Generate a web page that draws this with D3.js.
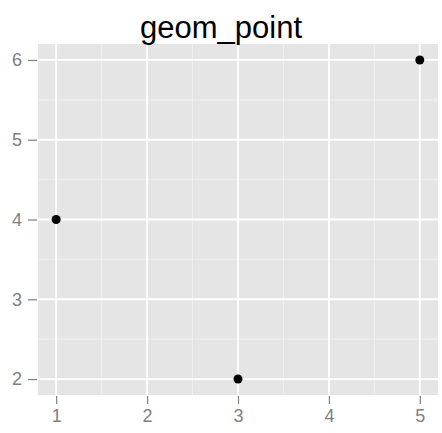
<!DOCTYPE html>
<html>
<head>
<meta charset="utf-8">
<script src="https://cdn.jsdelivr.net/npm/d3@7"></script>
<style>
  html, body { margin: 0; padding: 0; background: #fff; }
  svg { display: block; }
</style>
</head>
<body>
<svg id="chart" width="442" height="433"></svg>
<script>
// Data
const xValues = [1, 3, 5];
const yValues = [4, 2, 6];
const xTicks = [1, 2, 3, 4, 5];
const yTicks = [2, 3, 4, 5, 6];
const xMinor = [1.5, 2.5, 3.5, 4.5];
const yMinor = [2.5, 3.5, 4.5, 5.5];
const title = "geom_point";

const W = 442, H = 433;
const panel = { left: 38, right: 438, top: 44, bottom: 395 };

const svg = d3.select("#chart");

// Scales with ggplot-style 5% expansion
const x = d3.scaleLinear().domain([0.8, 5.2]).range([panel.left, panel.right]);
const y = d3.scaleLinear().domain([1.8, 6.2]).range([panel.bottom, panel.top]);

// Panel background
svg.append("rect")
  .attr("x", panel.left).attr("y", panel.top)
  .attr("width", panel.right - panel.left)
  .attr("height", panel.bottom - panel.top)
  .attr("fill", "#e5e5e5");

const grid = svg.append("g");
// Minor grid
grid.selectAll(".vminor").data(xMinor).join("line")
  .attr("x1", d => x(d)).attr("x2", d => x(d))
  .attr("y1", panel.top).attr("y2", panel.bottom)
  .attr("stroke", "#f2f2f2").attr("stroke-width", 0.8);
grid.selectAll(".hminor").data(yMinor).join("line")
  .attr("y1", d => y(d)).attr("y2", d => y(d))
  .attr("x1", panel.left).attr("x2", panel.right)
  .attr("stroke", "#f2f2f2").attr("stroke-width", 0.8);
// Major grid
grid.selectAll(".vmajor").data(xTicks).join("line")
  .attr("x1", d => x(d)).attr("x2", d => x(d))
  .attr("y1", panel.top).attr("y2", panel.bottom)
  .attr("stroke", "#ffffff").attr("stroke-width", 1.8);
grid.selectAll(".hmajor").data(yTicks).join("line")
  .attr("y1", d => y(d)).attr("y2", d => y(d))
  .attr("x1", panel.left).attr("x2", panel.right)
  .attr("stroke", "#ffffff").attr("stroke-width", 1.8);

// Axes
const xAxis = d3.axisBottom(x).tickValues(xTicks).tickSize(8).tickPadding(5).tickFormat(d3.format("d"));
const yAxis = d3.axisLeft(y).tickValues(yTicks).tickSize(9).tickPadding(6).tickFormat(d3.format("d"));

const gx = svg.append("g").attr("transform", `translate(0,${panel.bottom + 1})`).call(xAxis);
const gy = svg.append("g").attr("transform", `translate(${panel.left - 1},0)`).call(yAxis);

[gx, gy].forEach(g => {
  g.select(".domain").remove();
  g.selectAll(".tick line").attr("stroke", "#7f7f7f").attr("stroke-width", 1.2);
  g.selectAll(".tick text")
    .attr("fill", "#7f7f7f")
    .style("font-family", "'Liberation Sans', Arial, sans-serif")
    .style("font-size", "18px");
});

// Points
svg.append("g").selectAll("circle")
  .data(xValues.map((v, i) => ({ x: v, y: yValues[i] })))
  .join("circle")
  .attr("cx", d => x(d.x)).attr("cy", d => y(d.y))
  .attr("r", 4.5).attr("fill", "#000");

// Title
svg.append("text")
  .attr("x", W / 2).attr("y", 38)
  .attr("text-anchor", "middle")
  .style("font-family", "'Liberation Sans', Arial, sans-serif")
  .style("font-size", "31px")
  .attr("fill", "#000")
  .text(title);
</script>
</body>
</html>
